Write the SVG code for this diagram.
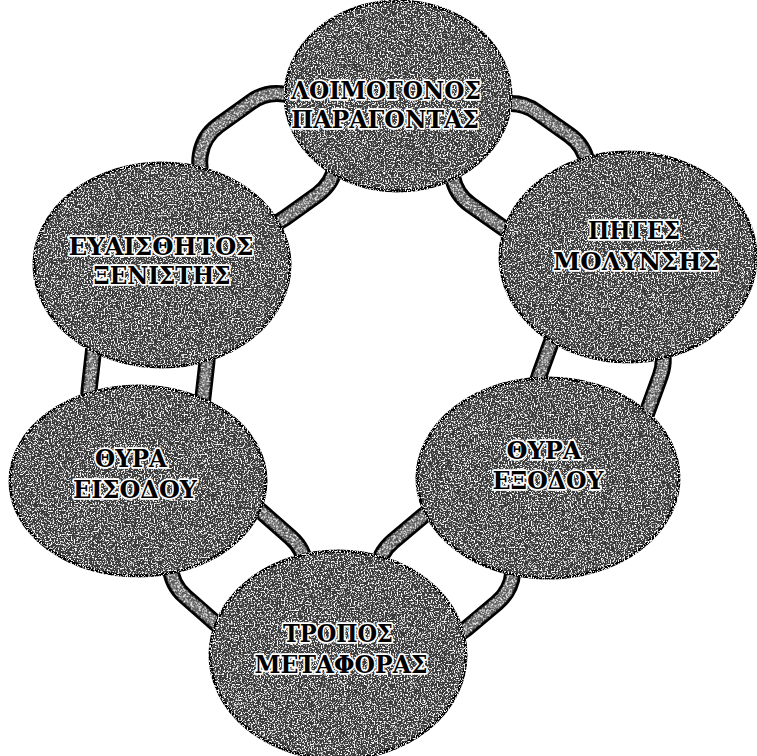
<svg xmlns="http://www.w3.org/2000/svg" width="757" height="756" viewBox="0 0 757 756">
  <defs>
    <filter id="grain" x="-5%" y="-5%" width="110%" height="110%">
      <feTurbulence type="fractalNoise" baseFrequency="0.7" numOctaves="2" seed="4" result="noise"/>
      <feColorMatrix in="noise" type="matrix" values="0 0 0 0 1  0 0 0 0 1  0 0 0 0 1  6 0 0 0 -3.1" result="spots"/>
      <feComposite in="spots" in2="SourceAlpha" operator="in" result="s2"/>
      <feMerge><feMergeNode in="SourceGraphic"/><feMergeNode in="s2"/></feMerge>
    </filter>
    <rect id="ring" x="-65" y="-57" width="130" height="114" rx="45" ry="45"/>
  </defs>
  <style>
    .disk { fill: #3a3a3a; stroke: #000; stroke-width: 3; filter: url(#grain); }
    .ringOut { fill: none; stroke: #000; stroke-width: 17; }
    .ringIn { fill: none; stroke: #5a5a5a; stroke-width: 11; filter: url(#grain); }
    .lbl { font-family: "DejaVu Serif", "Liberation Serif", serif; font-weight: bold; font-size: 24px; fill: #000; stroke: #fff; stroke-width: 3.5; paint-order: stroke; stroke-linejoin: round; text-anchor: middle; }
  </style>
  <rect width="757" height="756" fill="#fff"/>

  <g id="connectors">
    <g transform="translate(268,160) rotate(-35.8)"><use href="#ring" class="ringOut"/><use href="#ring" class="ringIn"/></g>
    <g transform="translate(520,170) rotate(35.2)"><use href="#ring" class="ringOut"/><use href="#ring" class="ringIn"/></g>
    <g transform="translate(600,375) rotate(109.9)"><use href="#ring" class="ringOut"/><use href="#ring" class="ringIn"/></g>
    <g transform="translate(445,572) rotate(139.9)"><use href="#ring" class="ringOut"/><use href="#ring" class="ringIn"/></g>
    <g transform="translate(238,567) rotate(221.2)"><use href="#ring" class="ringOut"/><use href="#ring" class="ringIn"/></g>
    <g transform="translate(148,376) rotate(-83.6)"><use href="#ring" class="ringOut"/><use href="#ring" class="ringIn"/></g>
  </g>

  <g id="node-loimogonos">
    <ellipse class="disk" cx="398" cy="96" rx="113" ry="95"/>
    <text class="lbl" x="386" y="99" textLength="190" lengthAdjust="spacingAndGlyphs">ΛΟΙΜΟΓΟΝΟΣ</text>
    <text class="lbl" x="385" y="128" textLength="188" lengthAdjust="spacingAndGlyphs">ΠΑΡΑΓΟΝΤΑΣ</text>
  </g>
  <g id="node-piges">
    <ellipse class="disk" cx="628" cy="257" rx="128" ry="105"/>
    <text class="lbl" x="634" y="239" textLength="92" lengthAdjust="spacingAndGlyphs">ΠΗΓΕΣ</text>
    <text class="lbl" x="636" y="270" textLength="166" lengthAdjust="spacingAndGlyphs">ΜΟΛΥΝΣΗΣ</text>
  </g>
  <g id="node-thyra-exodou">
    <ellipse class="disk" cx="548" cy="478" rx="131" ry="100"/>
    <text class="lbl" x="544" y="459" textLength="75" lengthAdjust="spacingAndGlyphs">ΘΥΡΑ</text>
    <text class="lbl" x="548" y="489" textLength="111" lengthAdjust="spacingAndGlyphs">ΕΞΟΔΟΥ</text>
  </g>
  <g id="node-tropos">
    <ellipse class="disk" cx="338" cy="655" rx="128" ry="104"/>
    <text class="lbl" x="338" y="642" textLength="110" lengthAdjust="spacingAndGlyphs">ΤΡΟΠΟΣ</text>
    <text class="lbl" x="341" y="673" textLength="173" lengthAdjust="spacingAndGlyphs">ΜΕΤΑΦΟΡΑΣ</text>
  </g>
  <g id="node-thyra-eisodou">
    <ellipse class="disk" cx="138" cy="481" rx="128" ry="95"/>
    <text class="lbl" x="131" y="467" textLength="72" lengthAdjust="spacingAndGlyphs">ΘΥΡΑ</text>
    <text class="lbl" x="135" y="498" textLength="124" lengthAdjust="spacingAndGlyphs">ΕΙΣΟΔΟΥ</text>
  </g>
  <g id="node-evaisthitos">
    <ellipse class="disk" cx="162" cy="265" rx="128" ry="102"/>
    <text class="lbl" x="161" y="255" textLength="185" lengthAdjust="spacingAndGlyphs">ΕΥΑΙΣΘΗΤΟΣ</text>
    <text class="lbl" x="162" y="284" textLength="137" lengthAdjust="spacingAndGlyphs">ΞΕΝΙΣΤΗΣ</text>
  </g>
</svg>
